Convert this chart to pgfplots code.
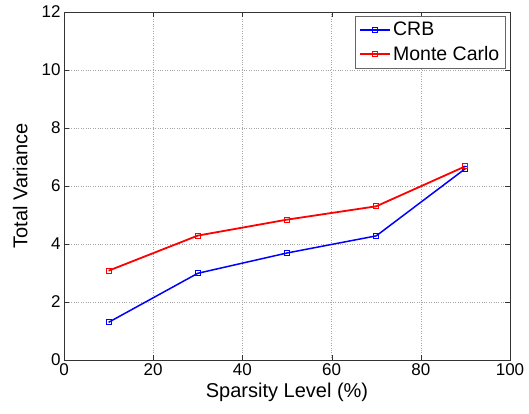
\documentclass[border=0pt]{standalone}
\usepackage{fontspec}
\setmainfont{Liberation Sans}
\usepackage{pgfplots}
\pgfplotsset{compat=1.18}

\begin{document}
\begin{tikzpicture}[font=\fontsize{17}{20}\selectfont]
\begin{axis}[
  scale only axis,
  width=446pt, height=348pt,
  at={(0,0)}, anchor=south west,
  xmin=0, xmax=100, ymin=0, ymax=12,
  xtick={0,20,...,100}, ytick={0,2,...,12},
  tick align=inside,
  major tick length=5pt,
  /pgf/number format/assume math mode=true,
  grid=major,
  grid style={dotted, gray!70},
  axis line style={black!80},
  tick style={black!80},
  xlabel={Sparsity Level (\%)},
  ylabel={Total Variance},
  label style={font=\fontsize{20}{24}\selectfont},
  xlabel style={yshift=-1pt},
  ylabel style={yshift=7pt},
  legend style={at={(0.99,0.988)}, anchor=north east, draw=black!60,
    font=\fontsize{19.5}{23}\selectfont,
    inner sep=4pt, row sep=5pt, cells={anchor=west}},
  legend image code/.code={
    \draw[mark repeat=2, mark phase=2, #1] plot coordinates {(0pt,0pt) (15pt,0pt) (30pt,0pt)};
  },
]
\addplot[blue, line width=1.5pt, mark=square, mark size=2.5pt, mark options={line width=1pt}]
  coordinates {(10,1.30) (30,2.99) (50,3.69) (70,4.28) (90,6.60)};
\addlegendentry{CRB}
\addplot[red, line width=1.8pt, mark=square, mark size=2.5pt, mark options={line width=1pt}]
  coordinates {(10,3.08) (30,4.29) (50,4.84) (70,5.30) (90,6.68)};
\addlegendentry{Monte Carlo}
\end{axis}
\pgfresetboundingbox
\path[use as bounding box] (-64pt,-53pt) rectangle (465pt,360pt);
\end{tikzpicture}
\end{document}
